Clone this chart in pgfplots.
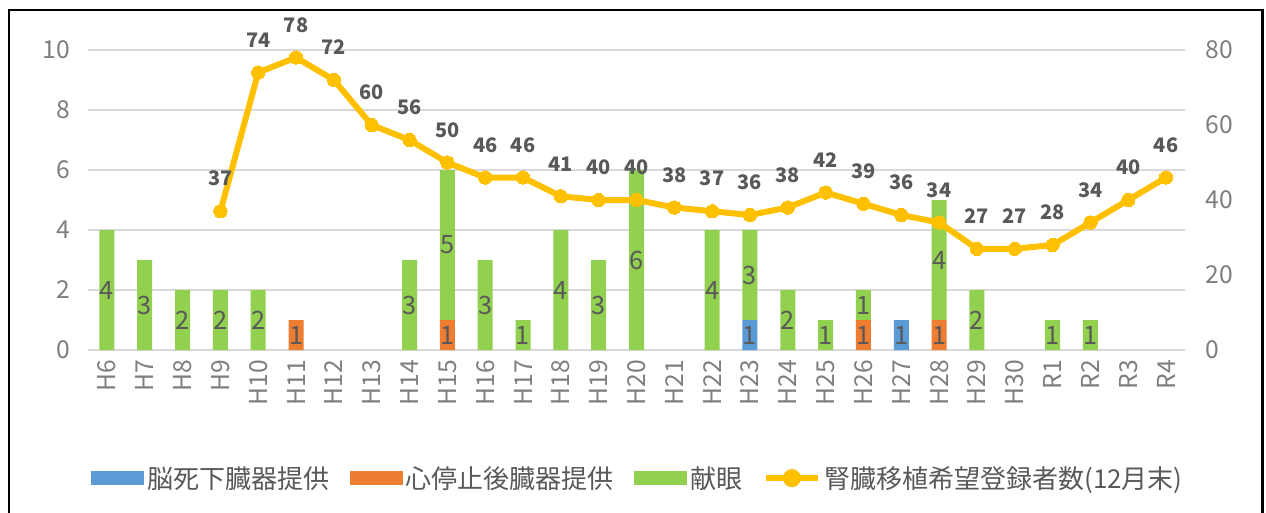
\documentclass[border=0pt]{standalone}
\usepackage{pgfplots}
\pgfplotsset{compat=1.18}
\usepackage{pgfplotstable}
\usepackage{fontspec}
\setmainfont{Noto Sans CJK JP}
\definecolor{cblue}{HTML}{5B9BD5}
\definecolor{corange}{HTML}{ED7D31}
\definecolor{cgreen}{HTML}{92D050}
\definecolor{cline}{HTML}{FFC000}
\definecolor{cgrid}{HTML}{D9D9D9}
\definecolor{ctick}{HTML}{7F7F7F}
\definecolor{clab}{HTML}{595959}

\pgfplotstableread{
idx brain cardiac eye
0 0 0 4
1 0 0 3
2 0 0 2
3 0 0 2
4 0 0 2
5 0 1 0
6 0 0 0
7 0 0 0
8 0 0 3
9 0 1 5
10 0 0 3
11 0 0 1
12 0 0 4
13 0 0 3
14 0 0 6
15 0 0 0
16 0 0 4
17 1 0 3
18 0 0 2
19 0 0 1
20 0 1 1
21 1 0 0
22 0 1 4
23 0 0 2
24 0 0 0
25 0 0 1
26 0 0 1
27 0 0 0
28 0 0 0
}\bars

\pgfplotstableread{
x y v
0 2 4
1 1.5 3
2 1 2
3 1 2
4 1 2
5 0.5 1
8 1.5 3
9 0.5 1
9 3.5 5
10 1.5 3
11 0.5 1
12 2 4
13 1.5 3
14 3 6
16 2 4
17 0.5 1
17 2.5 3
18 1 2
19 0.5 1
20 0.5 1
20 1.5 1
21 0.5 1
22 0.5 1
22 3 4
23 1 2
25 0.5 1
26 0.5 1
}\barlabels

\pgfplotstableread{
idx reg
3 37
4 74
5 78
6 72
7 60
8 56
9 50
10 46
11 46
12 41
13 40
14 40
15 38
16 37
17 36
18 38
19 42
20 39
21 36
22 34
23 27
24 27
25 28
26 34
27 40
28 46
}\regline

\pgfplotsset{
  common/.style={
    scale only axis,
    width=822.75pt, height=225pt,
    at={(66pt,-262.5pt)}, anchor=south west,
    xmin=-0.5, xmax=28.5,
    ymin=0,
    axis line style={draw=none},
    tick style={draw=none},
    tick label style={font=\fontsize{18.5}{20}\selectfont, text=ctick},
    /pgf/number format/assume math mode=true,
  }
}

\begin{document}
\begin{tikzpicture}
\path[use as bounding box, fill=white] (0,0) rectangle (949.5pt,-384pt);
\draw[line width=1.8pt, black] (6.8pt,-390pt) -- (6.8pt,-7.5pt) -- (946.8pt,-7.5pt) -- (946.8pt,-390pt);

% bars
\begin{axis}[common,
  ymax=10,
  ybar stacked, bar width=11.25pt,
  ytick={0,2,4,6,8,10},
  ymajorgrids, grid style={cgrid, line width=1.5pt},
  xtick={0,...,28},
  xticklabels={H6,H7,H8,H9,H10,H11,H12,H13,H14,H15,H16,H17,H18,H19,H20,H21,H22,H23,H24,H25,H26,H27,H28,H29,H30,R1,R2,R3,R4},
  x tick label style={rotate=90, anchor=east},
  xticklabel shift=4pt,
  yticklabel shift=10pt,
]
\addplot[fill=cblue, draw=none] table[x=idx, y=brain] {\bars};
\addplot[fill=corange, draw=none] table[x=idx, y=cardiac] {\bars};
\addplot[fill=cgreen, draw=none] table[x=idx, y=eye] {\bars};
\end{axis}

% bar labels
\begin{axis}[common, ymax=10, hide axis]
\addplot[draw=none, mark=none, nodes near coords, point meta=explicit,
  nodes near coords style={anchor=center, text=clab, font=\fontsize{19}{20}\selectfont, /pgf/number format/assume math mode=true, /pgf/number format/precision=0}]
  table[x=x, y=y, meta=v] {\barlabels};
\end{axis}

% line
\begin{axis}[common,
  ymax=80,
  axis x line=none,
  axis y line*=right,
  ytick={0,20,40,60,80},
  yticklabel shift=12pt,
  legend columns=4,
  legend style={draw=none, fill=none, at={(0.502,-0.427)}, anchor=center,
    font=\fontsize{19.5}{22}\selectfont, text=clab,
    /tikz/every even column/.append style={column sep=13pt},
    nodes={inner xsep=2.5pt}},
]
\addlegendimage{legend image code/.code={\fill[cblue] (0pt,-4.9pt) rectangle (39pt,4.9pt);}}
\addlegendentry{脳死下臓器提供}
\addlegendimage{legend image code/.code={\fill[corange] (0pt,-4.9pt) rectangle (39pt,4.9pt);}}
\addlegendentry{心停止後臓器提供}
\addlegendimage{legend image code/.code={\fill[cgreen] (0pt,-4.9pt) rectangle (39pt,4.9pt);}}
\addlegendentry{献眼}
\addplot[cline, line width=4.5pt, line join=round, mark=*, mark size=5pt, mark options={fill=cline, draw=cline, line width=0pt},
  nodes near coords,
  nodes near coords style={anchor=south, yshift=15.5pt, text=clab, font=\bfseries\fontsize{15}{17}\selectfont, /pgf/number format/assume math mode=true},
  legend image code/.code={\draw[cline, line width=4.5pt] (0pt,0pt) -- (39pt,0pt); \fill[cline] (19.5pt,0pt) circle (4.5pt);}]
  table[x=idx, y=reg] {\regline};
\addlegendentry{腎臓移植希望登録者数(12月末)}
\end{axis}
\end{tikzpicture}
\end{document}
